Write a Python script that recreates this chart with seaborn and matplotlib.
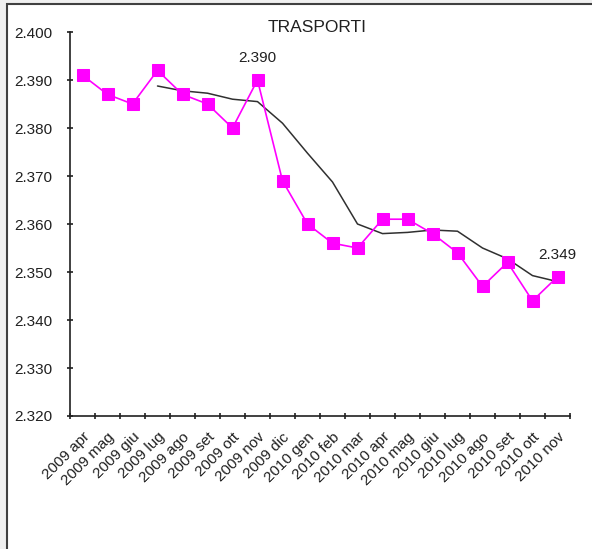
import numpy as np
import pandas as pd
import matplotlib
matplotlib.use("Agg")
import matplotlib.pyplot as plt
import seaborn as sns
from matplotlib.ticker import FixedLocator, FormatStrFormatter

# -- dati --
mesi = ["2009 apr", "2009 mag", "2009 giu", "2009 lug", "2009 ago", "2009 set",
        "2009 ott", "2009 nov", "2009 dic", "2010 gen", "2010 feb", "2010 mar",
        "2010 apr", "2010 mag", "2010 giu", "2010 lug", "2010 ago", "2010 set",
        "2010 ott", "2010 nov"]
valori = [2.391, 2.387, 2.385, 2.392, 2.387, 2.385, 2.380, 2.390, 2.369, 2.360,
          2.356, 2.355, 2.361, 2.361, 2.358, 2.354, 2.347, 2.352, 2.344, 2.349]
# media mobile a 4 periodi (linea nera), parte da 2009 lug
media_mobile = [np.nan, np.nan, np.nan, 2.38875, 2.38775, 2.38725, 2.3860, 2.3855,
                2.3810, 2.37475, 2.36875, 2.3600, 2.3580, 2.35825, 2.35875,
                2.3585, 2.3550, 2.35275, 2.34925, 2.3480]
etichette = {7: "2.390", 19: "2.349"}

df = pd.DataFrame({"pos": range(len(mesi)), "mese": mesi,
                   "valore": valori, "media": media_mobile})

sns.set_theme(style="white")
plt.rcParams["font.family"] = ["Liberation Sans", "DejaVu Sans"]

fig = plt.figure(figsize=(5.92, 5.49), dpi=100)
fig.patch.set_facecolor("#f0f0f0")
# riquadro bianco del grafico (bordo visibile solo a sinistra e in alto)
bg = plt.Rectangle((7 / 592, -0.05), 1.1, 1.05 - 4 / 549, transform=fig.transFigure,
                   facecolor="white", edgecolor="#404040", linewidth=1.5, zorder=0)
fig.patches.append(bg)

ax = fig.add_axes([70 / 592, 1 - 416 / 549, 500 / 592, 384 / 549])
ax.set_zorder(2)
ax.set_facecolor("none")

sns.lineplot(data=df, x="pos", y="media", ax=ax, color="#303030", linewidth=1.1,
             zorder=2)
sns.lineplot(data=df, x="pos", y="valore", ax=ax, color="#ff00ff", linewidth=1.2,
             marker="s", markersize=8, markeredgecolor="#ff00ff", zorder=3)

for i, txt in etichette.items():
    ax.annotate(txt, (df.pos[i], df.valore[i]), xytext=(0, 11),
                textcoords="offset points", ha="center", va="bottom",
                fontsize=11, color="#202020")

ax.set_xlim(-0.5, len(mesi) - 0.5)
ax.set_ylim(2.320, 2.400)
ax.yaxis.set_major_locator(FixedLocator(np.arange(2.320, 2.4005, 0.010)))
ax.yaxis.set_major_formatter(FormatStrFormatter("%.3f"))

# tick sui confini delle categorie, etichette al centro
ax.xaxis.set_major_locator(FixedLocator(np.arange(-0.5, len(mesi), 1.0)))
ax.set_xticklabels([])
ax.set_xticks(range(len(mesi)), minor=True)
ax.set_xticklabels(mesi, minor=True, rotation=45, ha="right",
                   rotation_mode="anchor", fontsize=11, color="#202020")
ax.tick_params(axis="x", which="minor", bottom=True, length=0, pad=10)
ax.tick_params(axis="both", which="major", direction="inout", length=5,
               width=1.2, color="#202020", bottom=True, left=True)
ax.tick_params(axis="y", labelsize=11, labelcolor="#202020", pad=10)

for s in ["top", "right"]:
    ax.spines[s].set_visible(False)
for s in ["left", "bottom"]:
    ax.spines[s].set_color("#202020")
    ax.spines[s].set_linewidth(1.2)

ax.set_xlabel("")
ax.set_ylabel("")
fig.text(317 / 592, 1 - 28 / 549, "TRASPORTI", ha="center", va="center",
         fontsize=12.5, color="#202020")

fig.savefig("out.png", dpi=100)
